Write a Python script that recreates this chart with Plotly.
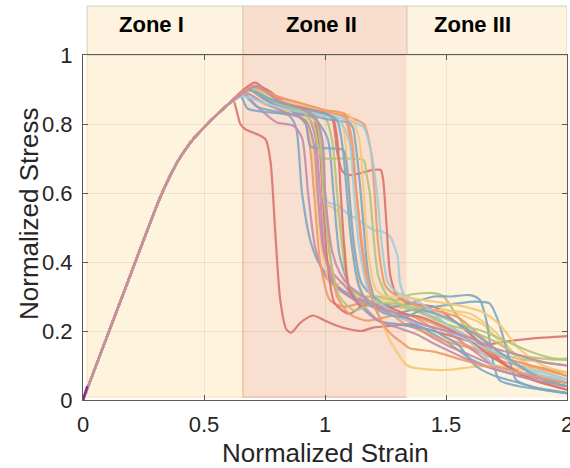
import plotly.graph_objects as go

# ---------------- data ----------------
ELASTIC_STRAIN = [0, 0.1, 0.2, 0.3, 0.33, 0.36, 0.39, 0.42, 0.46, 0.50, 0.55, 0.60]
ELASTIC_STRESS = [0, 0.185, 0.37, 0.555, 0.605, 0.65, 0.69, 0.723, 0.76, 0.79, 0.825, 0.857]

c01_x = [0.62, 0.65, 0.67, 0.72, 0.755, 0.775, 0.795, 0.815, 0.84, 0.86, 0.9, 0.95, 1.0, 1.05, 1.1, 1.15, 1.2, 1.27, 1.34, 1.45, 1.55, 1.65, 1.75, 1.85, 2.0]
c01_y = [0.87, 0.80, 0.785, 0.77, 0.755, 0.69, 0.48, 0.29, 0.205, 0.195, 0.225, 0.245, 0.23, 0.215, 0.205, 0.2, 0.21, 0.215, 0.22, 0.2, 0.18, 0.16, 0.17, 0.178, 0.185]
c02_x = [0.65, 0.68, 0.75, 0.85, 0.88, 0.905, 0.94, 0.98, 1.05, 1.12, 1.2, 1.3, 1.4, 1.5, 1.6, 1.7, 1.8, 1.9, 2.0]
c02_y = [0.88, 0.845, 0.835, 0.825, 0.79, 0.6, 0.46, 0.39, 0.33, 0.3, 0.28, 0.25, 0.21, 0.17, 0.12, 0.09, 0.07, 0.05, 0.04]
c03_x = [0.66, 0.72, 0.8, 0.87, 0.905, 0.93, 0.96, 1.0, 1.04, 1.1, 1.2, 1.3, 1.4, 1.5, 1.6, 1.7, 1.8, 1.9, 2.0]
c03_y = [0.89, 0.85, 0.805, 0.795, 0.76, 0.6, 0.44, 0.36, 0.33, 0.3, 0.27, 0.25, 0.2, 0.16, 0.13, 0.1, 0.08, 0.07, 0.05]
c04_x = [0.68, 0.75, 0.85, 0.91, 0.935, 0.955, 0.98, 1.02, 1.08, 1.15, 1.25, 1.33, 1.4, 1.5, 1.6, 1.7, 1.8, 1.9, 2.0]
c04_y = [0.9, 0.87, 0.84, 0.82, 0.75, 0.6, 0.4, 0.29, 0.27, 0.28, 0.26, 0.22, 0.2, 0.17, 0.15, 0.12, 0.1, 0.09, 0.07]
c05_x = [0.67, 0.74, 0.85, 0.92, 0.945, 0.965, 0.99, 1.03, 1.07, 1.12, 1.2, 1.27, 1.34, 1.4, 1.5, 1.6, 1.7, 1.8, 1.9, 2.0]
c05_y = [0.89, 0.86, 0.835, 0.815, 0.75, 0.6, 0.42, 0.33, 0.34, 0.3, 0.27, 0.17, 0.1, 0.09, 0.087, 0.095, 0.1, 0.09, 0.08, 0.06]
c06_x = [0.7, 0.78, 0.86, 0.93, 0.96, 0.98, 1.0, 1.03, 1.07, 1.12, 1.18, 1.25, 1.33, 1.4, 1.5, 1.6, 1.7, 1.8, 1.9, 2.0]
c06_y = [0.91, 0.87, 0.84, 0.82, 0.76, 0.6, 0.42, 0.37, 0.34, 0.3, 0.28, 0.26, 0.24, 0.22, 0.2, 0.15, 0.1, 0.08, 0.06, 0.05]
c07_x = [0.7, 0.8, 0.9, 0.95, 0.975, 0.99, 1.01, 1.04, 1.1, 1.15, 1.22, 1.3, 1.38, 1.45, 1.55, 1.65, 1.75, 1.85, 2.0]
c07_y = [0.9, 0.86, 0.84, 0.82, 0.75, 0.6, 0.4, 0.28, 0.25, 0.27, 0.28, 0.27, 0.26, 0.24, 0.2, 0.16, 0.1, 0.06, 0.03]
c08_x = [0.69, 0.78, 0.88, 0.95, 0.985, 1.0, 1.02, 1.05, 1.1, 1.17, 1.25, 1.33, 1.42, 1.5, 1.58, 1.66, 1.75, 1.85, 2.0]
c08_y = [0.91, 0.88, 0.85, 0.83, 0.76, 0.6, 0.42, 0.3, 0.25, 0.23, 0.24, 0.25, 0.22, 0.18, 0.16, 0.14, 0.12, 0.1, 0.08]
c09_x = [0.7, 0.8, 0.9, 0.97, 0.99, 1.0, 1.05, 1.08, 1.1, 1.13, 1.18, 1.25, 1.33, 1.45, 1.55, 1.65, 1.75, 1.85, 2.0]
c09_y = [0.9, 0.86, 0.84, 0.8, 0.7, 0.57, 0.55, 0.45, 0.33, 0.3, 0.3, 0.29, 0.28, 0.27, 0.25, 0.22, 0.15, 0.1, 0.06]
c10_x = [0.68, 0.78, 0.88, 0.96, 0.99, 1.01, 1.05, 1.09, 1.15, 1.2, 1.24, 1.27, 1.3, 1.31, 1.33, 1.36, 1.42, 1.5, 1.6, 1.7, 1.8, 1.9, 2.0]
c10_y = [0.9, 0.87, 0.85, 0.82, 0.7, 0.575, 0.565, 0.542, 0.516, 0.493, 0.487, 0.473, 0.415, 0.34, 0.3, 0.28, 0.25, 0.22, 0.18, 0.14, 0.1, 0.08, 0.06]
c11_x = [0.66, 0.72, 0.85, 0.95, 1.01, 1.035, 1.06, 1.1, 1.15, 1.22, 1.3, 1.38, 1.45, 1.55, 1.62, 1.7, 1.8, 1.9, 2.0]
c11_y = [0.885, 0.85, 0.83, 0.82, 0.76, 0.6, 0.42, 0.33, 0.27, 0.23, 0.22, 0.21, 0.2, 0.16, 0.1, 0.07, 0.05, 0.03, 0.02]
c12_x = [0.71, 0.8, 0.9, 1.0, 1.03, 1.05, 1.07, 1.1, 1.15, 1.22, 1.3, 1.35, 1.45, 1.49, 1.55, 1.62, 1.7, 1.8, 1.9, 2.0]
c12_y = [0.9, 0.86, 0.84, 0.82, 0.75, 0.6, 0.45, 0.33, 0.3, 0.3, 0.29, 0.305, 0.31, 0.3, 0.24, 0.18, 0.14, 0.12, 0.11, 0.1]
c13_x = [0.7, 0.76, 0.86, 0.99, 1.03, 1.05, 1.07, 1.1, 1.2, 1.23, 1.24, 1.255, 1.27, 1.3, 1.35, 1.45, 1.55, 1.65, 1.75, 1.85, 2.0]
c13_y = [0.91, 0.9, 0.85, 0.835, 0.815, 0.72, 0.665, 0.652, 0.667, 0.667, 0.64, 0.5, 0.36, 0.3, 0.28, 0.27, 0.22, 0.16, 0.1, 0.07, 0.05]
c14_x = [0.7, 0.8, 0.9, 1.0, 1.07, 1.09, 1.10, 1.12, 1.16, 1.2, 1.3, 1.4, 1.5, 1.6, 1.7, 1.8, 1.9, 2.0]
c14_y = [0.9, 0.86, 0.845, 0.83, 0.8, 0.7, 0.6, 0.42, 0.3, 0.28, 0.27, 0.26, 0.26, 0.25, 0.2, 0.12, 0.06, 0.03]
c15_x = [0.68, 0.76, 0.86, 0.92, 0.94, 1.0, 1.075, 1.09, 1.1, 1.12, 1.15, 1.2, 1.27, 1.35, 1.45, 1.52, 1.6, 1.64, 1.67, 1.69, 1.72, 1.8, 1.9, 2.0]
c15_y = [0.9, 0.87, 0.84, 0.8, 0.735, 0.73, 0.725, 0.68, 0.6, 0.45, 0.34, 0.3, 0.27, 0.28, 0.3, 0.3, 0.304, 0.29, 0.22, 0.125, 0.058, 0.04, 0.03, 0.02]
c16_x = [0.69, 0.78, 0.9, 1.0, 1.1, 1.116, 1.13, 1.145, 1.16, 1.18, 1.22, 1.28, 1.35, 1.45, 1.55, 1.62, 1.68, 1.71, 1.75, 1.79, 1.85, 1.92, 2.0]
c16_y = [0.9, 0.86, 0.835, 0.815, 0.803, 0.788, 0.72, 0.62, 0.5, 0.36, 0.27, 0.25, 0.26, 0.27, 0.28, 0.285, 0.28, 0.24, 0.15, 0.058, 0.04, 0.03, 0.02]
c17_x = [0.69, 0.8, 0.9, 1.0, 1.08, 1.11, 1.13, 1.15, 1.18, 1.22, 1.3, 1.38, 1.45, 1.55, 1.65, 1.75, 1.85, 1.95, 2.0]
c17_y = [0.91, 0.87, 0.85, 0.835, 0.82, 0.72, 0.6, 0.45, 0.32, 0.27, 0.25, 0.24, 0.22, 0.19, 0.15, 0.12, 0.1, 0.08, 0.07]
c18_x = [0.69, 0.8, 0.9, 0.95, 0.97, 0.99, 1.05, 1.16, 1.17, 1.185, 1.2, 1.22, 1.26, 1.33, 1.4, 1.5, 1.6, 1.7, 1.8, 1.9, 2.0]
c18_y = [0.9, 0.86, 0.84, 0.8, 0.74, 0.702, 0.70, 0.695, 0.66, 0.6, 0.48, 0.36, 0.3, 0.27, 0.25, 0.22, 0.2, 0.17, 0.13, 0.12, 0.116]
c19_x = [0.7, 0.8, 0.9, 1.0, 1.1, 1.16, 1.19, 1.205, 1.22, 1.25, 1.3, 1.36, 1.45, 1.55, 1.65, 1.75, 1.85, 2.0]
c19_y = [0.91, 0.88, 0.86, 0.84, 0.82, 0.8, 0.72, 0.6, 0.45, 0.33, 0.3, 0.28, 0.26, 0.24, 0.18, 0.12, 0.08, 0.05]
c20_x = [0.7, 0.8, 0.9, 1.0, 1.1, 1.16, 1.19, 1.215, 1.235, 1.26, 1.3, 1.34, 1.42, 1.5, 1.6, 1.7, 1.8, 1.9, 2.0]
c20_y = [0.9, 0.87, 0.85, 0.83, 0.81, 0.79, 0.72, 0.6, 0.45, 0.34, 0.31, 0.3, 0.27, 0.22, 0.17, 0.14, 0.1, 0.07, 0.05]
c21_x = [0.71, 0.8, 0.95, 1.03, 1.05, 1.065, 1.08, 1.1, 1.15, 1.2, 1.26, 1.33, 1.4, 1.5, 1.6, 1.7, 1.8, 1.9, 2.0]
c21_y = [0.92, 0.87, 0.84, 0.82, 0.76, 0.6, 0.44, 0.32, 0.27, 0.28, 0.27, 0.25, 0.24, 0.21, 0.17, 0.12, 0.08, 0.05, 0.03]
c22_x = [0.67, 0.75, 0.85, 0.92, 0.955, 0.97, 0.99, 1.02, 1.05, 1.1, 1.16, 1.22, 1.3, 1.38, 1.46, 1.55, 1.65, 1.75, 1.85, 2.0]
c22_y = [0.89, 0.86, 0.83, 0.81, 0.74, 0.6, 0.45, 0.37, 0.33, 0.3, 0.27, 0.23, 0.21, 0.19, 0.16, 0.13, 0.1, 0.08, 0.06, 0.04]
c23_x = [0.66, 0.75, 0.86, 0.96, 1.06, 1.1, 1.12, 1.14, 1.17, 1.2, 1.25, 1.3, 1.4, 1.5, 1.57, 1.63, 1.7, 1.8, 1.9, 2.0]
c23_y = [0.88, 0.86, 0.84, 0.83, 0.81, 0.75, 0.6, 0.45, 0.34, 0.29, 0.27, 0.24, 0.22, 0.2, 0.18, 0.15, 0.1, 0.08, 0.07, 0.06]
c24_x = [0.7, 0.8, 0.9, 1.0, 1.1, 1.14, 1.16, 1.18, 1.21, 1.25, 1.32, 1.4, 1.5, 1.58, 1.65, 1.72, 1.8, 1.9, 2.0]
c24_y = [0.9, 0.87, 0.855, 0.84, 0.825, 0.76, 0.6, 0.42, 0.32, 0.3, 0.3, 0.29, 0.28, 0.27, 0.255, 0.22, 0.15, 0.1, 0.08]
c25_x = [0.7, 0.8, 0.9, 0.96, 0.98, 0.995, 1.02, 1.06, 1.12, 1.2, 1.28, 1.36, 1.45, 1.55, 1.65, 1.75, 1.85, 1.95, 2.0]
c25_y = [0.9, 0.86, 0.84, 0.82, 0.75, 0.6, 0.42, 0.3, 0.26, 0.28, 0.28, 0.27, 0.25, 0.22, 0.2, 0.17, 0.14, 0.12, 0.12]
c26_x = [0.68, 0.78, 0.9, 1.0, 1.05, 1.075, 1.09, 1.11, 1.14, 1.18, 1.25, 1.33, 1.4, 1.5, 1.6, 1.7, 1.8, 1.9, 2.0]
c26_y = [0.9, 0.87, 0.845, 0.83, 0.81, 0.72, 0.6, 0.45, 0.33, 0.28, 0.25, 0.24, 0.26, 0.24, 0.2, 0.15, 0.1, 0.06, 0.04]
c27_x = [0.7, 0.8, 0.9, 1.0, 1.08, 1.11, 1.13, 1.16, 1.2, 1.26, 1.33, 1.35, 1.45, 1.55, 1.65, 1.75, 1.85, 2.0]
c27_y = [0.91, 0.88, 0.86, 0.84, 0.83, 0.76, 0.6, 0.42, 0.28, 0.2, 0.16, 0.15, 0.14, 0.12, 0.1, 0.09, 0.07, 0.05]
c28_x = [0.72, 0.8, 0.9, 0.96, 0.99, 1.0, 1.03, 1.06, 1.1, 1.16, 1.22, 1.3, 1.4, 1.5, 1.6, 1.7, 1.8, 1.9, 2.0]
c28_y = [0.91, 0.87, 0.845, 0.82, 0.75, 0.6, 0.43, 0.37, 0.33, 0.3, 0.27, 0.25, 0.22, 0.2, 0.18, 0.15, 0.13, 0.11, 0.1]

CURVES_X = [c01_x, c02_x, c03_x, c04_x, c05_x, c06_x, c07_x, c08_x, c09_x, c10_x, c11_x, c12_x, c13_x, c14_x,
            c15_x, c16_x, c17_x, c18_x, c19_x, c20_x, c21_x, c22_x, c23_x, c24_x, c25_x, c26_x, c27_x, c28_x]
CURVES_Y = [c01_y, c02_y, c03_y, c04_y, c05_y, c06_y, c07_y, c08_y, c09_y, c10_y, c11_y, c12_y, c13_y, c14_y,
            c15_y, c16_y, c17_y, c18_y, c19_y, c20_y, c21_y, c22_y, c23_y, c24_y, c25_y, c26_y, c27_y, c28_y]

RED, ORANGE, YELLOW, GREEN = "#d9736f", "#ee9a6b", "#f6c87a", "#b3c57d"
BLUE, LBLUE, MAUVE = "#7ea8c4", "#a2cddc", "#c48cab"
CURVE_COLORS = [RED, BLUE, MAUVE, ORANGE, YELLOW, MAUVE, RED, ORANGE, YELLOW, LBLUE, BLUE, GREEN, RED, YELLOW,
                BLUE, BLUE, ORANGE, GREEN, ORANGE, LBLUE, RED, MAUVE, LBLUE, YELLOW, GREEN, BLUE, ORANGE, MAUVE]

ZONE_NAMES = ["Zone I", "Zone II", "Zone III"]
ZONE_START = [0.017, 0.661, 1.339]
ZONE_END = [0.661, 1.339, 2.0]
ZONE_LABEL_X = [0.285, 0.985, 1.61]

ORIGIN_X = [0, 0.018]
ORIGIN_Y = [0, 0.04]
BASE_X = [1.57, 1.6, 1.63, 1.72, 1.76, 1.82, 1.85, 1.88, 1.92, 1.96, 1.99]
BASE_Y = [-0.004, -0.004, -0.004, -0.004, -0.004, -0.004, -0.004, -0.004, -0.004, -0.004, -0.004]
BASE_COLORS = ["#0072BD", "#0072BD", "#0072BD", "#7E2F8E", "#77AC30", "#7E2F8E", "#7E2F8E", "#D95319",
               "#D95319", "#0072BD", "#0072BD"]

X_TICKS = [0, 0.5, 1, 1.5, 2]
X_TICK_TEXT = ["0", "0.5", "1", "1.5", "2"]
Y_TICKS = [0, 0.2, 0.4, 0.6, 0.8, 1]
Y_TICK_TEXT = ["0", "0.2", "0.4", "0.6", "0.8", "1"]

# ---------------- figure ----------------
FONT = "Liberation Sans, Arial, Helvetica, sans-serif"
fig = go.Figure()

for xs, ys, col in zip(CURVES_X, CURVES_Y, CURVE_COLORS):
    fig.add_trace(go.Scatter(
        x=ELASTIC_STRAIN + xs, y=ELASTIC_STRESS + ys, mode="lines",
        line=dict(color=col, width=2.2, shape="spline", smoothing=0.7),
        opacity=0.9, hoverinfo="skip", showlegend=False))

fig.add_trace(go.Scatter(x=ORIGIN_X, y=ORIGIN_Y, mode="lines",
                         line=dict(color="#7E2F8E", width=2.5), showlegend=False, hoverinfo="skip"))
fig.add_trace(go.Scatter(x=BASE_X, y=BASE_Y, mode="markers", cliponaxis=False,
                         marker=dict(symbol="line-ew", size=8, line=dict(color=BASE_COLORS, width=2.5)),
                         showlegend=False, hoverinfo="skip"))

ZONE_FILL = ["#fef4de", "#f9dfd0", "#fef4de"]
ZONE_EDGE = ["#fde8bf", "#f6bfa2", "#fef4de"]
HEAD_FILL = ["#fdf3de", "#f9dece", "#fdf3de"]
Y_BOTTOM = 0.0087
Y_TOP = 1.142
shapes = []
for i in range(3):
    shapes.append(dict(type="rect", xref="x", yref="paper", x0=ZONE_START[i], x1=ZONE_END[i],
                       y0=Y_BOTTOM, y1=1.0, fillcolor=ZONE_FILL[i],
                       line=dict(color=ZONE_EDGE[i], width=1.5), layer="below"))
    shapes.append(dict(type="rect", xref="x", yref="paper", x0=ZONE_START[i], x1=ZONE_END[i],
                       y0=1.0, y1=Y_TOP, fillcolor=HEAD_FILL[i],
                       line=dict(color="#d6ccbd", width=1), layer="below"))

annotations = []
for name, xc in zip(ZONE_NAMES, ZONE_LABEL_X):
    annotations.append(dict(x=xc, y=1.087, xref="x", yref="paper", text="<b>" + name + "</b>", showarrow=False,
                            font=dict(family=FONT, size=22, color="#000000"),
                            xanchor="center", yanchor="middle"))
annotations.append(dict(x=0.5, y=-0.155, xref="paper", yref="paper", text="Normalized Strain",
                        showarrow=False, xanchor="center", yanchor="middle",
                        font=dict(family=FONT, size=26, color="#262626")))
annotations.append(dict(x=-0.113, y=0.54, xref="paper", yref="paper", text="Normalized Stress",
                        showarrow=False, xanchor="center", yanchor="middle", textangle=-90,
                        font=dict(family=FONT, size=26, color="#262626")))

axis_common = dict(showline=True, linecolor="#5a5a5a", linewidth=1.2, mirror="ticks", ticks="inside",
                   ticklen=5, tickcolor="#5a5a5a", showgrid=True, gridcolor="rgba(0,0,0,0.07)",
                   gridwidth=1, zeroline=False, ticklabeloverflow="allow", automargin=False,
                   tickfont=dict(family=FONT, size=22, color="#262626"))

fig.update_layout(
    width=570, height=468,
    margin=dict(l=83, r=3, t=55, b=68, autoexpand=False),
    paper_bgcolor="white", plot_bgcolor="white",
    shapes=shapes, annotations=annotations,
    xaxis=dict(range=[0, 2], tickvals=X_TICKS, ticktext=X_TICK_TEXT, ticklabelstandoff=4, **axis_common),
    yaxis=dict(range=[0, 1], tickvals=Y_TICKS, ticktext=Y_TICK_TEXT, ticklabelstandoff=5, **axis_common),
)

fig.write_html("out.html")
